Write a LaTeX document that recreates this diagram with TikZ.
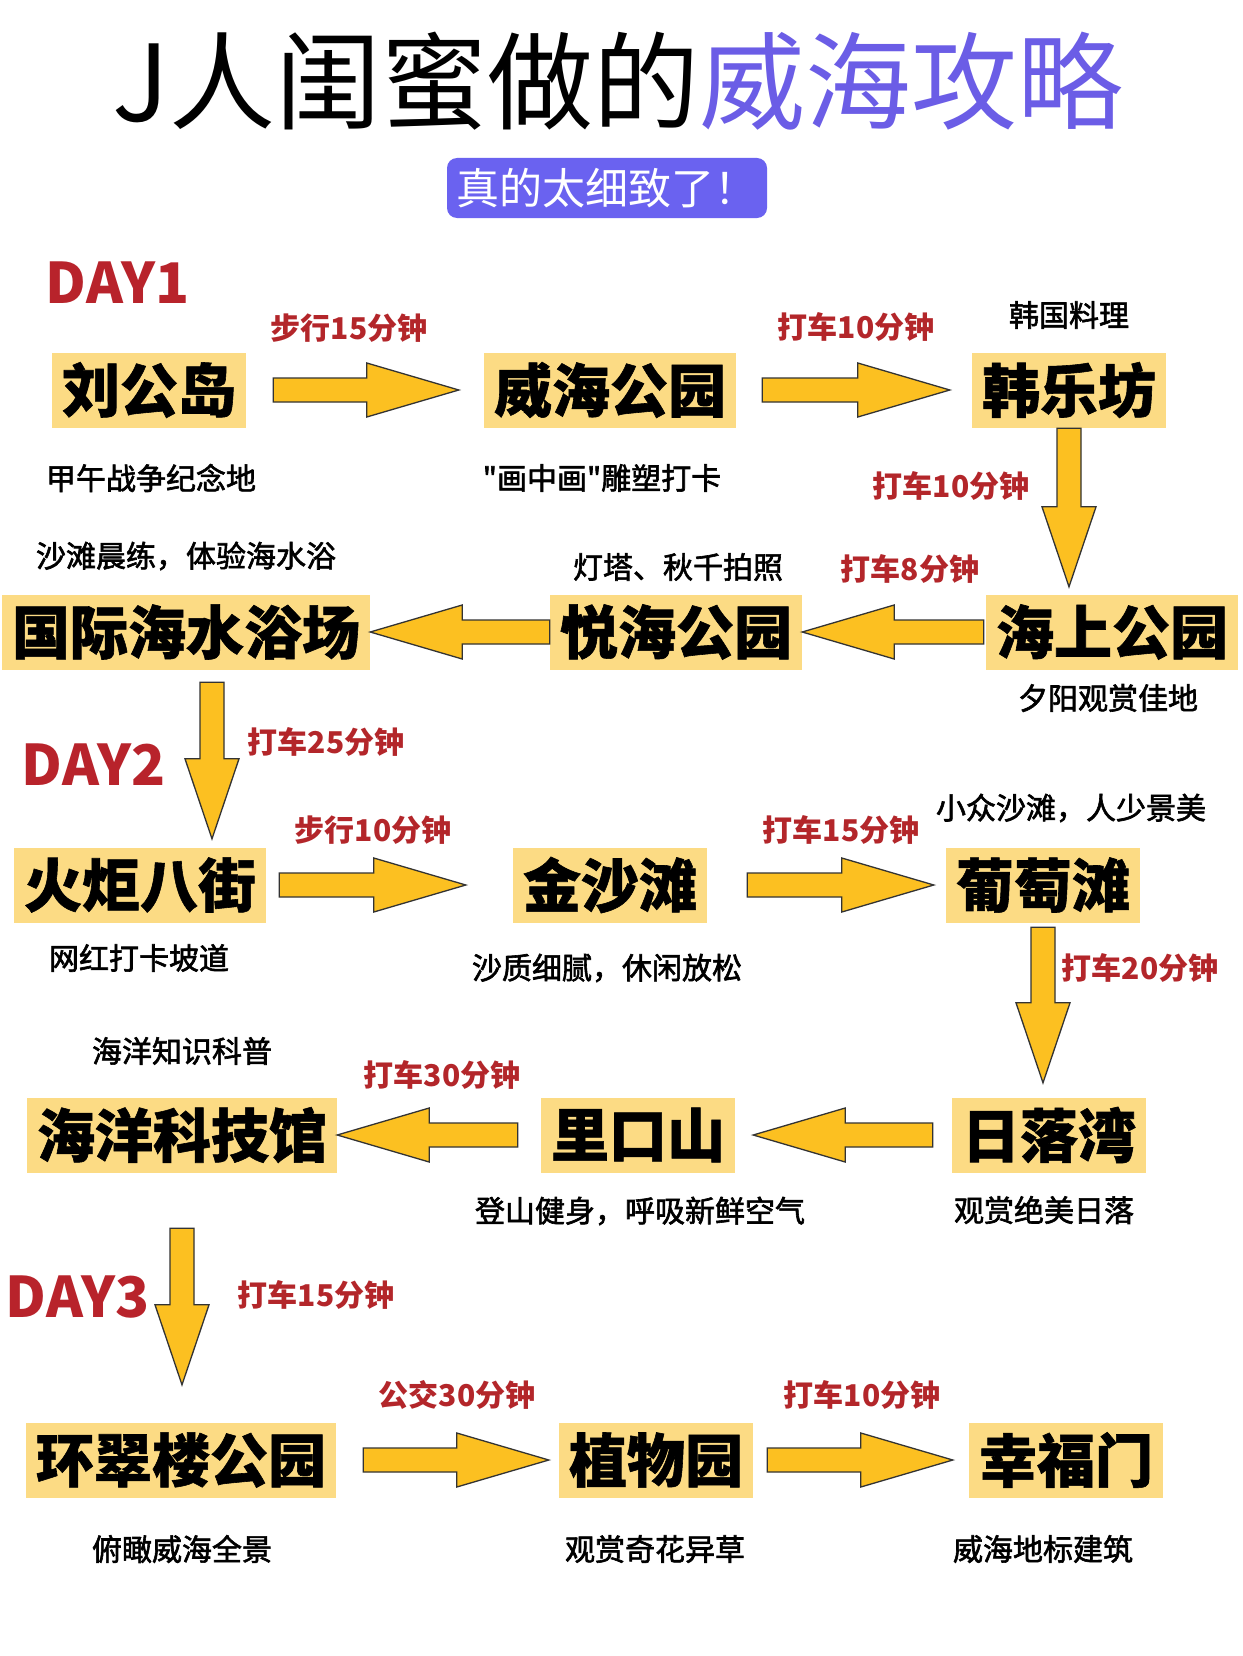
\documentclass[tikz,border=0pt]{standalone}
\usepackage{fontspec}
\setmainfont{Noto Sans CJK SC}
\newfontfamily\medfont{Noto Sans CJK SC}[FakeBold=2]
\newfontfamily\heavyfont{Noto Sans CJK SC}[BoldFeatures={FakeBold=1}]
\usepackage{xcolor}
\usepackage{tikz}
\usetikzlibrary{calc, positioning}

\definecolor{spotyellow}{HTML}{FCDB84}
\definecolor{arrowgold}{HTML}{FCC021}
\definecolor{ridered}{HTML}{B3262A}
\definecolor{dayred}{HTML}{B8232B}
\definecolor{titleblue}{HTML}{6B5DE6}
\definecolor{tagblue}{HTML}{6A62F0}

\tikzset{
  spot/.style={fill=spotyellow, minimum height=75pt, inner xsep=10pt, inner ysep=0pt,
    font=\heavyfont\fontsize{58}{60}\selectfont\bfseries},
  ride/.style={text=ridered, font=\fontsize{30}{32}\selectfont\bfseries},
  note/.style={font=\medfont\fontsize{30}{32}\selectfont},
  daylabel/.style={text=dayred, font=\fontsize{56}{58}\selectfont\bfseries},
  flowarrow/.style={fill=arrowgold, draw=black!80, line width=1.3pt, line join=miter}
}

% 粗箭头: [箭头长] {起点} {终点} {起点留空} {终点留空}
\newcommand{\tourarrow}[5][92pt]{%
  \coordinate (fs) at ($(#2)!#4!(#3)$);
  \coordinate (ft) at ($(#3)!#5!(#2)$);
  \draw[flowarrow] ($(fs)!12pt!90:(ft)$) -- ($(ft)!#1!(fs)!12pt!-90:(fs)$)
    -- ($(ft)!#1!(fs)!27pt!-90:(fs)$) -- (ft)
    -- ($(ft)!#1!(fs)!27pt!90:(fs)$) -- ($(ft)!#1!(fs)!12pt!90:(fs)$)
    -- ($(fs)!12pt!-90:(ft)$) -- cycle;
}

\begin{document}
\begin{tikzpicture}[x=1pt, y=-1pt]
    \fill[white] (0,0) rectangle (1242,1656);
    \useasboundingbox (0,0) rectangle (1242,1656);

    % 标题
    \node (title) at (618,81) {\fontsize{106}{110}\selectfont J人闺蜜做的\textcolor{titleblue}{威海攻略}};
    \node[fill=tagblue, rounded corners=10pt, minimum width=320pt, minimum height=60pt,
        text=white, font=\fontsize{43}{45}\selectfont] (tag) at (607,188) {真的太细致了！};

    % 第一天
    \node[daylabel] (day1) at (118,283) {DAY1};
    \node[spot] (liugong) at (149,390) {刘公岛};
    \node[spot] (weihai) at (610,390) {威海公园};
    \node[spot] (hanle) at (1069,390) {韩乐坊};
    \node[spot] (guoji) at (186,632) {国际海水浴场};
    \node[spot] (yuehai) at (676,632) {悦海公园};
    \node[spot] (haishang) at (1112,632) {海上公园};

    % 第二天
    \node[daylabel] (day2) at (94,765) {DAY2};
    \node[spot] (huoju) at (140,885) {火炬八街};
    \node[spot] (jinsha) at (610,885) {金沙滩};
    \node[spot] (putao) at (1043,885) {葡萄滩};
    \node[spot] (haiyang) at (182,1135) {海洋科技馆};
    \node[spot] (likou) at (638,1135) {里口山};
    \node[spot] (riluo) at (1049,1135) {日落湾};

    % 第三天
    \node[daylabel] (day3) at (78,1297) {DAY3};
    \node[spot] (huancui) at (181,1460) {环翠楼公园};
    \node[spot] (zhiwu) at (656,1460) {植物园};
    \node[spot] (xingfu) at (1066,1460) {幸福门};

    % 交通方式
    \foreach \t/\x/\y [count=\i] in {步行15分钟/349/328, 打车10分钟/856/327,
        打车10分钟/951/486, 打车8分钟/910/569, 打车25分钟/326/742,
        步行10分钟/373/830, 打车15分钟/841/830, 打车20分钟/1140/968,
        打车30分钟/442/1075, 打车15分钟/316/1295, 公交30分钟/457/1395,
        打车10分钟/862/1395}
        \node[ride] (ride\i) at (\x,\y) {\t};

    % 景点说明
    \foreach \t/\x/\y [count=\i] in {韩国料理/1069/315, 甲午战争纪念地/151/478,
        "画中画"雕塑打卡/602/478, 沙滩晨练，体验海水浴/186/556,
        灯塔、秋千拍照/678/567, 夕阳观赏佳地/1108/698,
        小众沙滩，人少景美/1071/808, 网红打卡坡道/139/958,
        沙质细腻，休闲放松/607/968, 海洋知识科普/182/1051,
        登山健身，呼吸新鲜空气/640/1211, 观赏绝美日落/1044/1210,
        俯瞰威海全景/182/1549, 观赏奇花异草/655/1549, 威海地标建筑/1043/1549}
        \node[note] (note\i) at (\x,\y) {\t};

    % 箭头
    \tourarrow{liugong.east}{weihai.west}{27pt}{25pt}
    \tourarrow{weihai.east}{hanle.west}{26pt}{22pt}
    \tourarrow[80pt]{hanle.south}{haishang.north -| hanle.south}{0.5pt}{7.5pt}
    \tourarrow{haishang.west}{yuehai.east}{2pt}{0pt}
    \tourarrow{yuehai.west}{guoji.east}{0pt}{0pt}
    \coordinate (drop2) at ([xshift=26pt]guoji.south);
    \tourarrow[80pt]{drop2}{huoju.north -| drop2}{12.5pt}{8.5pt}
    \tourarrow{huoju.east}{jinsha.west}{13pt}{47pt}
    \tourarrow{jinsha.east}{putao.west}{40pt}{12pt}
    \tourarrow[80pt]{putao.south}{riluo.north -| putao.south}{4.5pt}{14.5pt}
    \tourarrow{riluo.west}{likou.east}{19pt}{18pt}
    \tourarrow{likou.west}{haiyang.east}{23pt}{0pt}
    \tourarrow[80pt]{haiyang.south}{huancui.north -| haiyang.south}{55.5pt}{37.5pt}
    \tourarrow{huancui.east}{zhiwu.west}{27pt}{10pt}
    \tourarrow{zhiwu.east}{xingfu.west}{14pt}{16pt}
\end{tikzpicture}
\end{document}
